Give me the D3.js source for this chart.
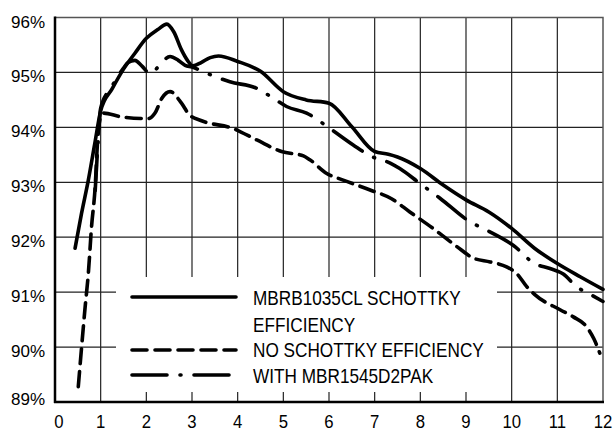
<!DOCTYPE html>
<html>
<head>
<meta charset="utf-8">
<script src="https://cdn.jsdelivr.net/npm/d3@7"></script>
<style>
  html, body { margin: 0; padding: 0; background: #fff; }
  svg { display: block; font-family: "Liberation Sans", Arial, sans-serif; }
</style>
</head>
<body>
<svg id="chart" width="615" height="431"></svg>
<script>
const width = 615, height = 431;
const xTicks = [0, 1, 2, 3, 4, 5, 6, 7, 8, 9, 10, 11, 12];
const yTicks = [89, 90, 91, 92, 93, 94, 95, 96];

// [load, efficiency %]
const schottkyCurve = [[0.44, 91.8], [0.58, 92.43], [0.73, 93.04], [0.87, 93.7], [1.0, 94.3], [1.25, 94.7], [1.5, 95.06], [1.75, 95.35], [2.0, 95.62], [2.25, 95.78], [2.45, 95.88], [2.6, 95.74], [2.77, 95.41], [2.9, 95.22], [3.02, 95.12], [3.2, 95.18], [3.4, 95.27], [3.58, 95.3], [4.0, 95.2], [4.5, 95.02], [5.0, 94.65], [5.5, 94.5], [6.0, 94.44], [6.5, 94.01], [7.0, 93.56], [7.3, 93.51], [7.5, 93.46], [8.0, 93.25], [8.5, 92.95], [9.0, 92.68], [9.5, 92.46], [10.0, 92.16], [10.5, 91.8], [11.0, 91.52], [11.5, 91.28], [12.0, 91.05]];
const noSchottkyCurve = [[0.51, 89.28], [0.66, 90.73], [0.73, 91.34], [0.8, 92.19], [0.88, 92.92], [0.93, 93.71], [1.0, 94.2], [1.06, 94.26], [1.46, 94.19], [2.04, 94.16], [2.19, 94.26], [2.34, 94.53], [2.52, 94.65], [2.77, 94.44], [2.94, 94.23], [3.21, 94.12], [3.9, 93.98], [4.42, 93.77], [4.96, 93.56], [5.44, 93.48], [5.58, 93.41], [5.95, 93.16], [6.31, 93.04], [6.9, 92.86], [7.37, 92.7], [7.77, 92.46], [8.28, 92.16], [8.8, 91.83], [9.16, 91.62], [9.53, 91.55], [9.89, 91.46], [10.11, 91.34], [10.33, 91.1], [10.5, 90.96], [11.06, 90.68], [11.35, 90.55], [11.64, 90.37], [11.8, 90.15], [11.93, 89.89]];
const d2pakCurve = [[0.88, 92.85], [0.94, 93.7], [1.0, 94.35], [1.25, 94.75], [1.5, 95.08], [1.6, 95.18], [1.75, 95.22], [1.9, 95.12], [2.08, 94.98], [2.2, 95.05], [2.33, 95.17], [2.52, 95.29], [2.7, 95.22], [2.85, 95.13], [3.0, 95.1], [3.25, 95.01], [3.83, 94.83], [4.42, 94.71], [4.78, 94.53], [5.07, 94.38], [5.51, 94.26], [6.02, 93.98], [6.53, 93.68], [6.93, 93.47], [7.34, 93.35], [7.55, 93.25], [7.99, 92.98], [8.43, 92.71], [9.09, 92.28], [9.45, 92.13], [10.04, 91.85], [10.5, 91.52], [10.84, 91.43], [11.13, 91.33], [11.42, 91.1], [11.7, 90.97], [12.0, 90.83]];

const seriesNames = ["MBRB1035CL SCHOTTKY|EFFICIENCY", "NO SCHOTTKY EFFICIENCY", "WITH MBR1545D2PAK"];
const dashes = [null, "15,8", "35,13,1,13"];

const svg = d3.select("#chart");
const x = d3.scaleLinear().domain([0, 12]).range([55, 603]);
const y = d3.scaleLinear().domain([89, 96]).range([402, 17.5]);

// grid
svg.append("g").selectAll("line")
  .data(xTicks.slice(1, -1))
  .enter().append("line")
  .attr("x1", d => x(d)).attr("x2", d => x(d))
  .attr("y1", y(96)).attr("y2", y(89))
  .attr("stroke", "#222").attr("stroke-width", 1.2);

svg.append("g").selectAll("line")
  .data(yTicks.slice(1, -1))
  .enter().append("line")
  .attr("x1", x(0)).attr("x2", x(12))
  .attr("y1", d => y(d)).attr("y2", d => y(d))
  .attr("stroke", "#222").attr("stroke-width", 1.2);

// top / right border
svg.append("path")
  .attr("d", `M${x(0)},${y(96)}H${x(12)}V${y(89)}`)
  .attr("fill", "none").attr("stroke", "#555").attr("stroke-width", 1.5);

// legend background
const legend = svg.append("g");
legend.append("rect")
  .attr("x", 116).attr("y", 277)
  .attr("width", 381).attr("height", 115)
  .attr("fill", "#fff");

// axes
svg.append("line")
  .attr("x1", x(0)).attr("x2", x(0)).attr("y1", y(96) - 1).attr("y2", y(89) + 1)
  .attr("stroke", "#000").attr("stroke-width", 2.5);
svg.append("line")
  .attr("x1", x(0) - 1).attr("x2", x(12) + 1).attr("y1", y(89)).attr("y2", y(89))
  .attr("stroke", "#000").attr("stroke-width", 2.5);

svg.append("g").selectAll("text")
  .data(yTicks)
  .enter().append("text")
  .attr("x", 45)
  .attr("y", d => Math.min(y(d) + 10, y(89) + 3))
  .attr("text-anchor", "end")
  .attr("font-size", "17px")
  .attr("fill", "#000")
  .text(d => d + "%");

svg.append("g").selectAll("text")
  .data(xTicks)
  .enter().append("text")
  .attr("transform", d => `translate(${Math.max(x(d), 59)},428) scale(0.88,1)`)
  .attr("text-anchor", "middle")
  .attr("font-size", "19px")
  .attr("fill", "#000")
  .text(d => d);

// curves
const line = d3.line().x(d => x(d[0])).y(d => y(d[1])).curve(d3.curveMonotoneX);
[schottkyCurve, noSchottkyCurve, d2pakCurve].forEach((c, i) => {
  svg.append("path")
    .datum(c)
    .attr("fill", "none")
    .attr("stroke", "#000")
    .attr("stroke-width", 3.6)
    .attr("stroke-linecap", "round")
    .attr("stroke-linejoin", "round")
    .attr("stroke-dasharray", dashes[i])
    .attr("d", line);
});

// legend entries
const legendLineY = [297, 350, 375];
const legendTextY = [[305, 332], [357], [383]];
seriesNames.forEach((name, i) => {
  legend.append("line")
    .attr("x1", 132).attr("x2", 236)
    .attr("y1", legendLineY[i]).attr("y2", legendLineY[i])
    .attr("stroke", "#000").attr("stroke-width", 3.6)
    .attr("stroke-linecap", "round")
    .attr("stroke-dasharray", dashes[i]);
  name.split("|").forEach((part, j) => {
    legend.append("text")
      .attr("transform", `translate(253,${legendTextY[i][j]}) scale(0.86,1)`)
      .attr("font-size", "20px")
      .attr("fill", "#000")
      .text(part);
  });
});
</script>
</body>
</html>
